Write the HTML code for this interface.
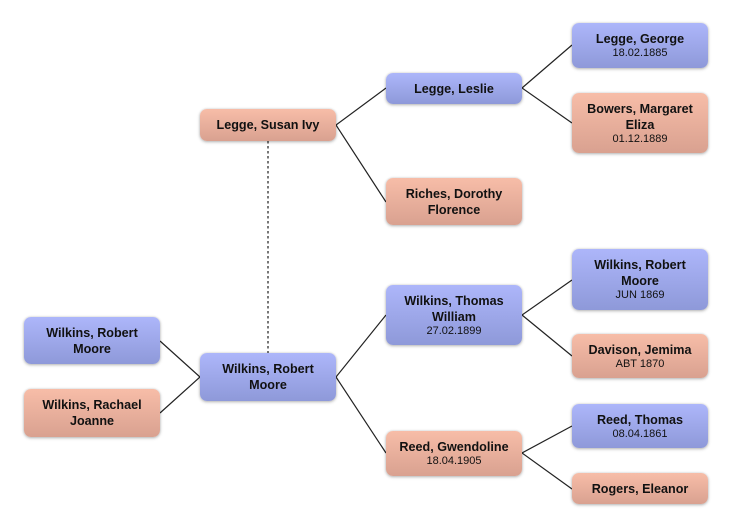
<!DOCTYPE html>
<html><head><meta charset="utf-8">
<style>
html,body{margin:0;padding:0;background:#fff;}
body{width:732px;height:529px;position:relative;overflow:hidden;font-family:"Liberation Sans",Arial,sans-serif;}
.b{position:absolute;width:136px;border-radius:7px;box-shadow:0 1px 3px rgba(0,0,0,0.28),0 0 2px rgba(0,0,0,0.12);display:flex;flex-direction:column;justify-content:center;align-items:center;text-align:center;color:#111;box-sizing:border-box;}
.m{background:linear-gradient(#adb6fa,#8e99d9);}
.f{background:linear-gradient(#f7bda8,#d9a190);}
.n{font-weight:bold;font-size:12.6px;line-height:16px;}
.d{font-size:11px;line-height:13px;}
svg{position:absolute;left:0;top:0;}
</style></head><body>
<svg width="732" height="529">
<g stroke="#222" stroke-width="1.2" fill="none">
<polyline points="386,88 336,125 386,202"/>
<polyline points="572,45 522,88 572,123"/>
<polyline points="386,315 336,377 386,453"/>
<polyline points="160,341 200,377 160,413"/>
<polyline points="572,280 522,315 572,356"/>
<polyline points="572,426 522,453 572,489"/>
</g>
<line x1="268" y1="141" x2="268" y2="353" stroke="#777" stroke-width="2" stroke-dasharray="2.5,2.5"/>
</svg>

<div class="b f" style="left:200px;top:109px;height:32px;"><div class="n">Legge, Susan Ivy</div></div>
<div class="b m" style="left:386px;top:73px;height:31px;"><div class="n">Legge, Leslie</div></div>
<div class="b f" style="left:386px;top:178px;height:47px;"><div class="n">Riches, Dorothy<br>Florence</div></div>
<div class="b m" style="left:572px;top:23px;height:45px;"><div class="n">Legge, George</div><div class="d">18.02.1885</div></div>
<div class="b f" style="left:572px;top:93px;height:60px;"><div class="n">Bowers, Margaret<br>Eliza</div><div class="d">01.12.1889</div></div>

<div class="b m" style="left:24px;top:317px;height:47px;"><div class="n">Wilkins, Robert<br>Moore</div></div>
<div class="b f" style="left:24px;top:389px;height:48px;"><div class="n">Wilkins, Rachael<br>Joanne</div></div>
<div class="b m" style="left:200px;top:353px;height:48px;"><div class="n">Wilkins, Robert<br>Moore</div></div>

<div class="b m" style="left:386px;top:285px;height:60px;"><div class="n">Wilkins, Thomas<br>William</div><div class="d">27.02.1899</div></div>
<div class="b f" style="left:386px;top:431px;height:45px;"><div class="n">Reed, Gwendoline</div><div class="d">18.04.1905</div></div>

<div class="b m" style="left:572px;top:249px;height:61px;"><div class="n">Wilkins, Robert<br>Moore</div><div class="d">JUN 1869</div></div>
<div class="b f" style="left:572px;top:334px;height:44px;"><div class="n">Davison, Jemima</div><div class="d">ABT 1870</div></div>
<div class="b m" style="left:572px;top:404px;height:44px;"><div class="n">Reed, Thomas</div><div class="d">08.04.1861</div></div>
<div class="b f" style="left:572px;top:473px;height:31px;"><div class="n">Rogers, Eleanor</div></div>
</body></html>
